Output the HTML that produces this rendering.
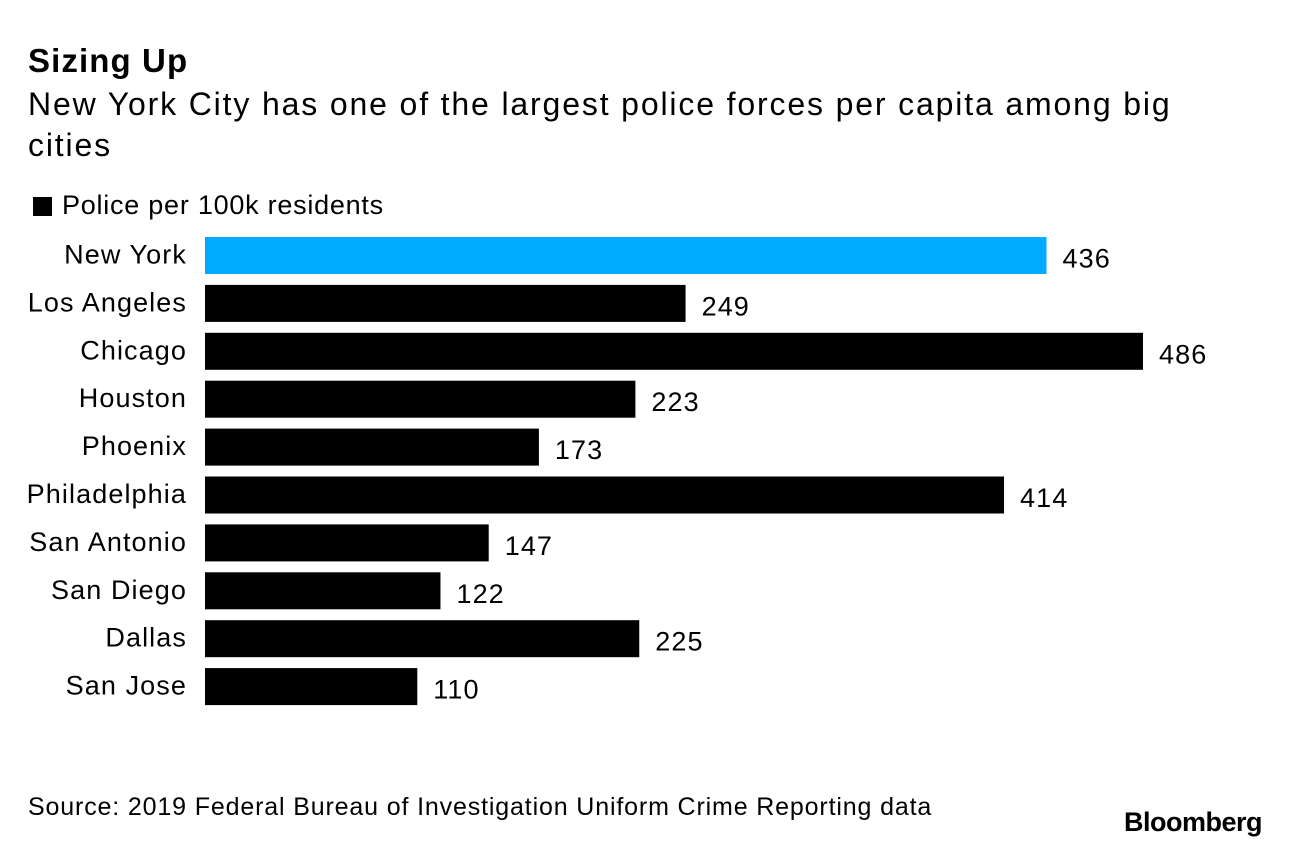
<!DOCTYPE html>
<html><head><meta charset="utf-8"><style>
body{margin:0;width:1289px;height:848px;background:#fff;font-family:"Liberation Sans",Arial,sans-serif;color:#000;position:relative;overflow:hidden}
.t{position:absolute;white-space:nowrap}
</style></head><body>
<div class="t" style="left:28px;top:42px;font-size:33px;font-weight:bold;letter-spacing:1.1px">Sizing Up</div>
<div class="t" style="left:28px;top:84px;font-size:32px;line-height:41px;letter-spacing:1.85px">New York City has one of the largest police forces per capita among big<br>cities</div>
<div style="position:absolute;left:33px;top:197px;width:19px;height:19px;background:#000"></div>
<div class="t" style="left:62px;top:190px;font-size:27px;letter-spacing:0.75px">Police per 100k residents</div>
<svg id="chart" width="1289" height="848" style="position:absolute;left:0;top:0"></svg>
<div class="t" style="left:28px;top:793px;font-size:25px;letter-spacing:0.85px">Source: 2019 Federal Bureau of Investigation Uniform Crime Reporting data</div>
<div class="t" style="right:27px;top:807px;font-size:27px;font-weight:bold;letter-spacing:-0.5px">Bloomberg</div>
<script>
const categories=["New York","Los Angeles","Chicago","Houston","Phoenix","Philadelphia","San Antonio","San Diego","Dallas","San Jose"];
const values=[436,249,486,223,173,414,147,122,225,110];
const highlight=["New York"];
const svg=document.getElementById('chart');
const NS='http://www.w3.org/2000/svg';
const x0=205, scale=(1143-205)/486;
const xPos=v=>x0+v*scale;
const yPos=i=>237+i*47.9;
const bh=37;
categories.forEach((c,i)=>{
  const y=yPos(i);
  const r=document.createElementNS(NS,'rect');
  r.setAttribute('x',x0);r.setAttribute('y',y);
  r.setAttribute('width',xPos(values[i])-x0);r.setAttribute('height',bh);
  r.setAttribute('fill',highlight.includes(c)?'#00aaff':'#000');
  
  
  svg.appendChild(r);
  const l=document.createElementNS(NS,'text');
  l.setAttribute('x',187);l.setAttribute('y',y+bh/2+8);
  l.setAttribute('text-anchor','end');l.setAttribute('font-size','27');
  l.setAttribute('letter-spacing','1.1');
  l.setAttribute('font-family','Liberation Sans, Arial, sans-serif');
  l.textContent=c;
  
  
  svg.appendChild(l);
  const v=document.createElementNS(NS,'text');
  v.setAttribute('x',xPos(values[i])+16);v.setAttribute('y',y+bh/2+12);
  v.setAttribute('font-size','27');
  v.setAttribute('letter-spacing','1.1');
  v.setAttribute('font-family','Liberation Sans, Arial, sans-serif');
  v.textContent=values[i];
  
  
  svg.appendChild(v);
});
</script>
</body></html>
